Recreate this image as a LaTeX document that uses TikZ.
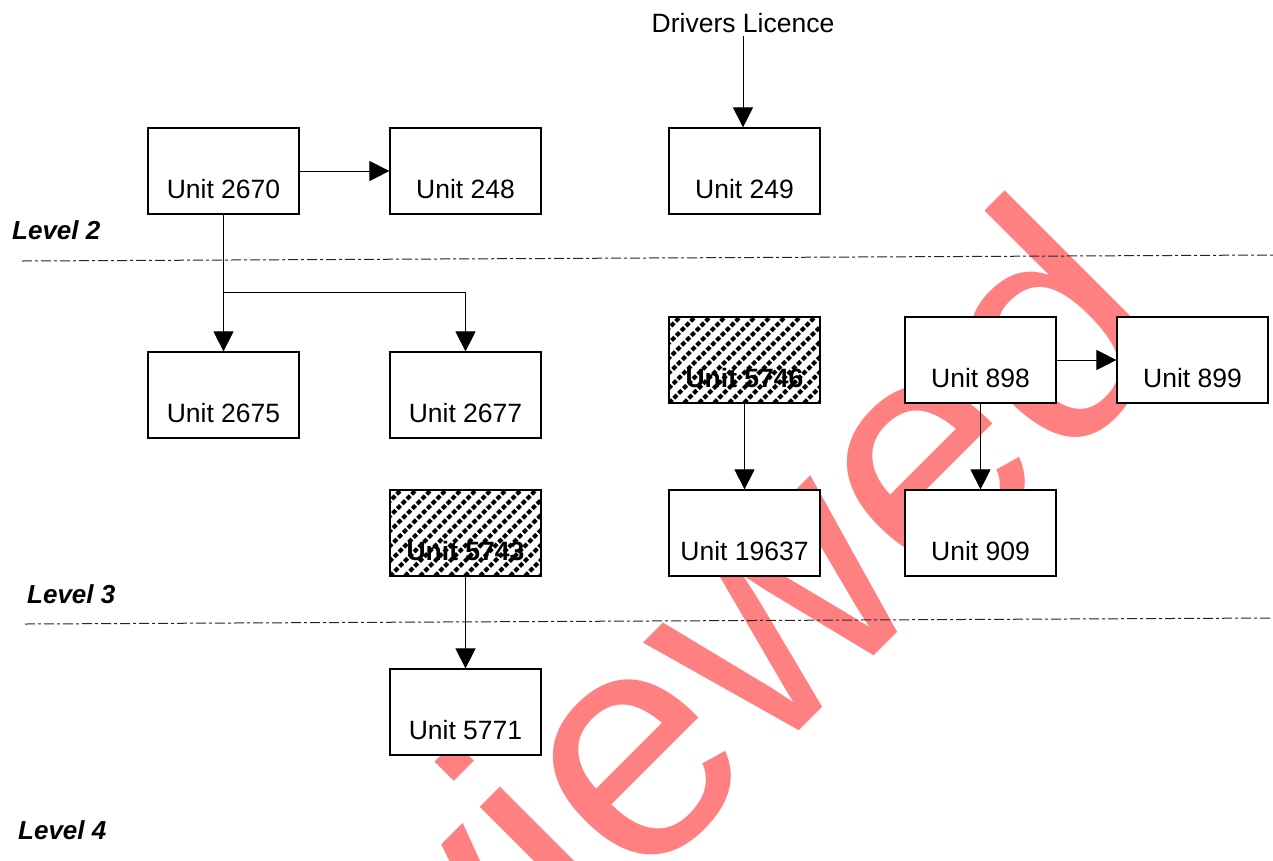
\documentclass[tikz,border=0pt]{standalone}
\usepackage{fontspec}
\setmainfont{Liberation Sans}
\usetikzlibrary{arrows.meta}
\definecolor{wm}{HTML}{FF8080}
\tikzset{
  unitbox/.style={draw=black, line width=1.2pt, fill=white, minimum width=151pt,
    text height=70pt, text depth=16pt, inner ysep=0pt, inner xsep=0pt,
    font=\fontsize{26.5}{30}\selectfont},
  hatchline/.style={line width=4pt, dash pattern=on 4.6pt off 2.2pt},
  hatchbox/.style={unitbox, font=\fontsize{26.5}{30}\selectfont\bfseries,
    path picture={\foreach \k in {-7,...,11}{\draw[hatchline] ([xshift=\k*15pt]path picture bounding box.south west) -- ++(110pt,110pt);}}},
  conn/.style={line width=0.9pt, -{Triangle[length=20pt,width=20pt]}},
  levelline/.style={line width=1pt, black!85, dash pattern=on 10pt off 3pt on 3pt off 3pt},
  levellabel/.style={anchor=base west, inner sep=0pt, font=\fontsize{26}{30}\selectfont\bfseries\itshape}
}
\begin{document}
\begin{tikzpicture}[x=1pt,y=-1pt]
\useasboundingbox (0,0) rectangle (1273,860);
\fill[white] (0,0) rectangle (1273,860);
% watermark
\begin{scope}
\clip (0,0) rectangle (1273,860);
\node[rotate=45, anchor=base west, inner sep=0pt, text=wm, font=\fontsize{326}{326}\selectfont] (wmark) at (176,1354) {Reviewed};
\end{scope}
% level separators
\coordinate (l2a) at (22,261);
\coordinate (l2b) at (1273,255);
\coordinate (l3a) at (25,624);
\coordinate (l3b) at (1273,618);
\draw[levelline] (l2a) -- (l2b);
\draw[levelline] (l3a) -- (l3b);
\node[levellabel] (lev2) at (12,239) {Level 2};
\node[levellabel] (lev3) at (27,603) {Level 3};
\node[levellabel] (lev4) at (18,839) {Level 4};
% boxes
\node[unitbox] (u2670) at (223.5,171) {Unit 2670};
\node[unitbox] (u248) at (465.5,171) {Unit 248};
\node[unitbox] (u249) at (744.5,171) {Unit 249};
\node[unitbox] (u2675) at (223.5,395) {Unit 2675};
\node[unitbox] (u2677) at (465.5,395) {Unit 2677};
\node[hatchbox] (u5746) at (744.5,360) {Unit 5746};
\node[unitbox] (u898) at (980.5,360) {Unit 898};
\node[unitbox] (u899) at (1192.5,360) {Unit 899};
\node[hatchbox] (u5743) at (465.5,533) {Unit 5743};
\node[unitbox] (u19637) at (744.5,533) {Unit 19637};
\node[unitbox] (u909) at (980.5,533) {Unit 909};
\node[unitbox] (u5771) at (465.5,712) {Unit 5771};
\node[anchor=base, font=\fontsize{26.5}{30}\selectfont] (drv) at (743,32) {Drivers Licence};
% connectors
\draw[conn] (u2670) -- (u248);
\draw[conn] (u2670.south) -- (u2675.north);
\coordinate (br) at (223.5,292);
\draw[conn] (br) -| (u2677.north);
\draw[conn] (drv.south) -- (drv.south |- u249.north);
\draw[conn] (u5746.south) -- (u19637.north);
\draw[conn] (u898) -- (u899);
\draw[conn] (u898.south) -- (u909.north);
\draw[conn] (u5743.south) -- (u5771.north);
\end{tikzpicture}
\end{document}
